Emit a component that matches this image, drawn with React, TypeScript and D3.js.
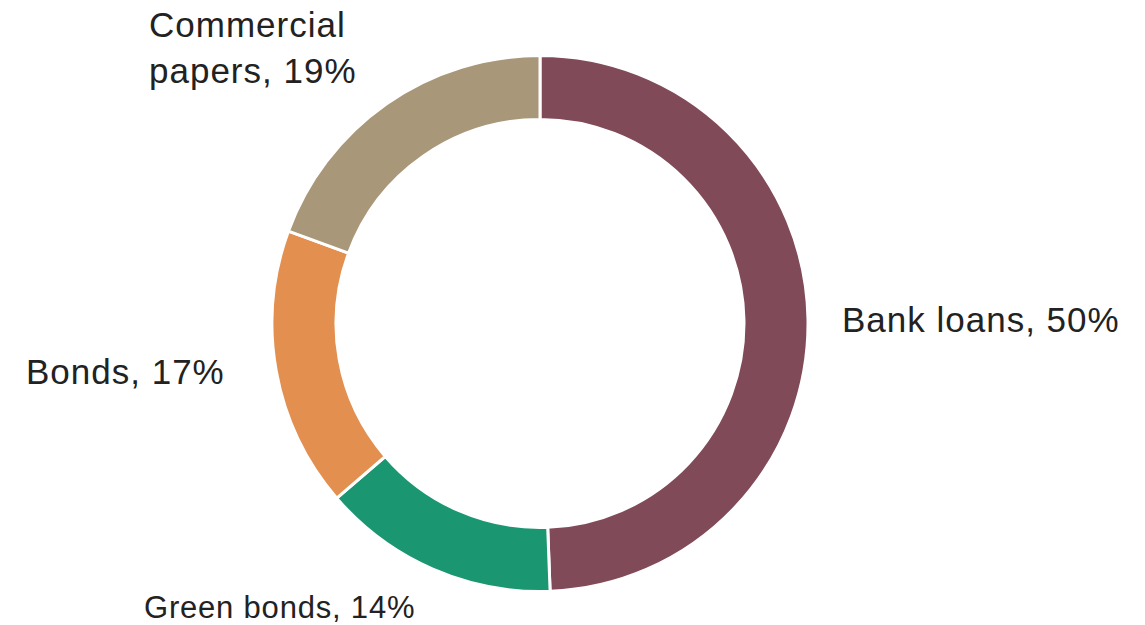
import React from "react";
import * as d3 from "d3";

const categories = ["Bank loans", "Green bonds", "Bonds", "Commercial papers"];
const values = [49.4, 14.3, 16.9, 19.4];
const labelTexts = ["Bank loans, 50%", "Green bonds, 14%", "Bonds, 17%", "Commercial papers, 19%"];
const colors = ["#804a58", "#1a9670", "#e38f4f", "#a99779"];

const W = 1145;
const H = 625;
const cx = 540;
const cy = 323.5;
const outerR = 268;
const innerR = 204;

export default function App() {
  const pie = d3.pie<number>().sort(null).value((d) => d)(values);
  const arc = d3.arc<d3.PieArcDatum<number>>().innerRadius(innerR).outerRadius(outerR);

  const font = "'Liberation Sans', Arial, Helvetica, sans-serif";
  const big = { fontSize: 35, letterSpacing: 1.0 };
  const small = { fontSize: 31, letterSpacing: 0.8 };

  return (
    <svg width={W} height={H} style={{ position: "absolute", left: 0, top: 0 }}>
      <rect width={W} height={H} fill="#ffffff" />
      <g transform={`translate(${cx},${cy})`}>
        {pie.map((p, i) => (
          <path key={categories[i]} d={arc(p) || ""} fill={colors[i]} stroke="#ffffff" strokeWidth={3} />
        ))}
      </g>
      <g fill="#222222" fontFamily={font}>
        <text x={842} y={332} fontSize={big.fontSize} letterSpacing={big.letterSpacing}>{labelTexts[0]}</text>
        <text x={144} y={618} fontSize={small.fontSize} letterSpacing={small.letterSpacing}>{labelTexts[1]}</text>
        <text x={26} y={384} fontSize={big.fontSize} letterSpacing={big.letterSpacing}>{labelTexts[2]}</text>
        <text x={149} y={37} fontSize={big.fontSize} letterSpacing={big.letterSpacing}>Commercial</text>
        <text x={149} y={83} fontSize={big.fontSize} letterSpacing={big.letterSpacing}>papers, 19%</text>
      </g>
    </svg>
  );
}
